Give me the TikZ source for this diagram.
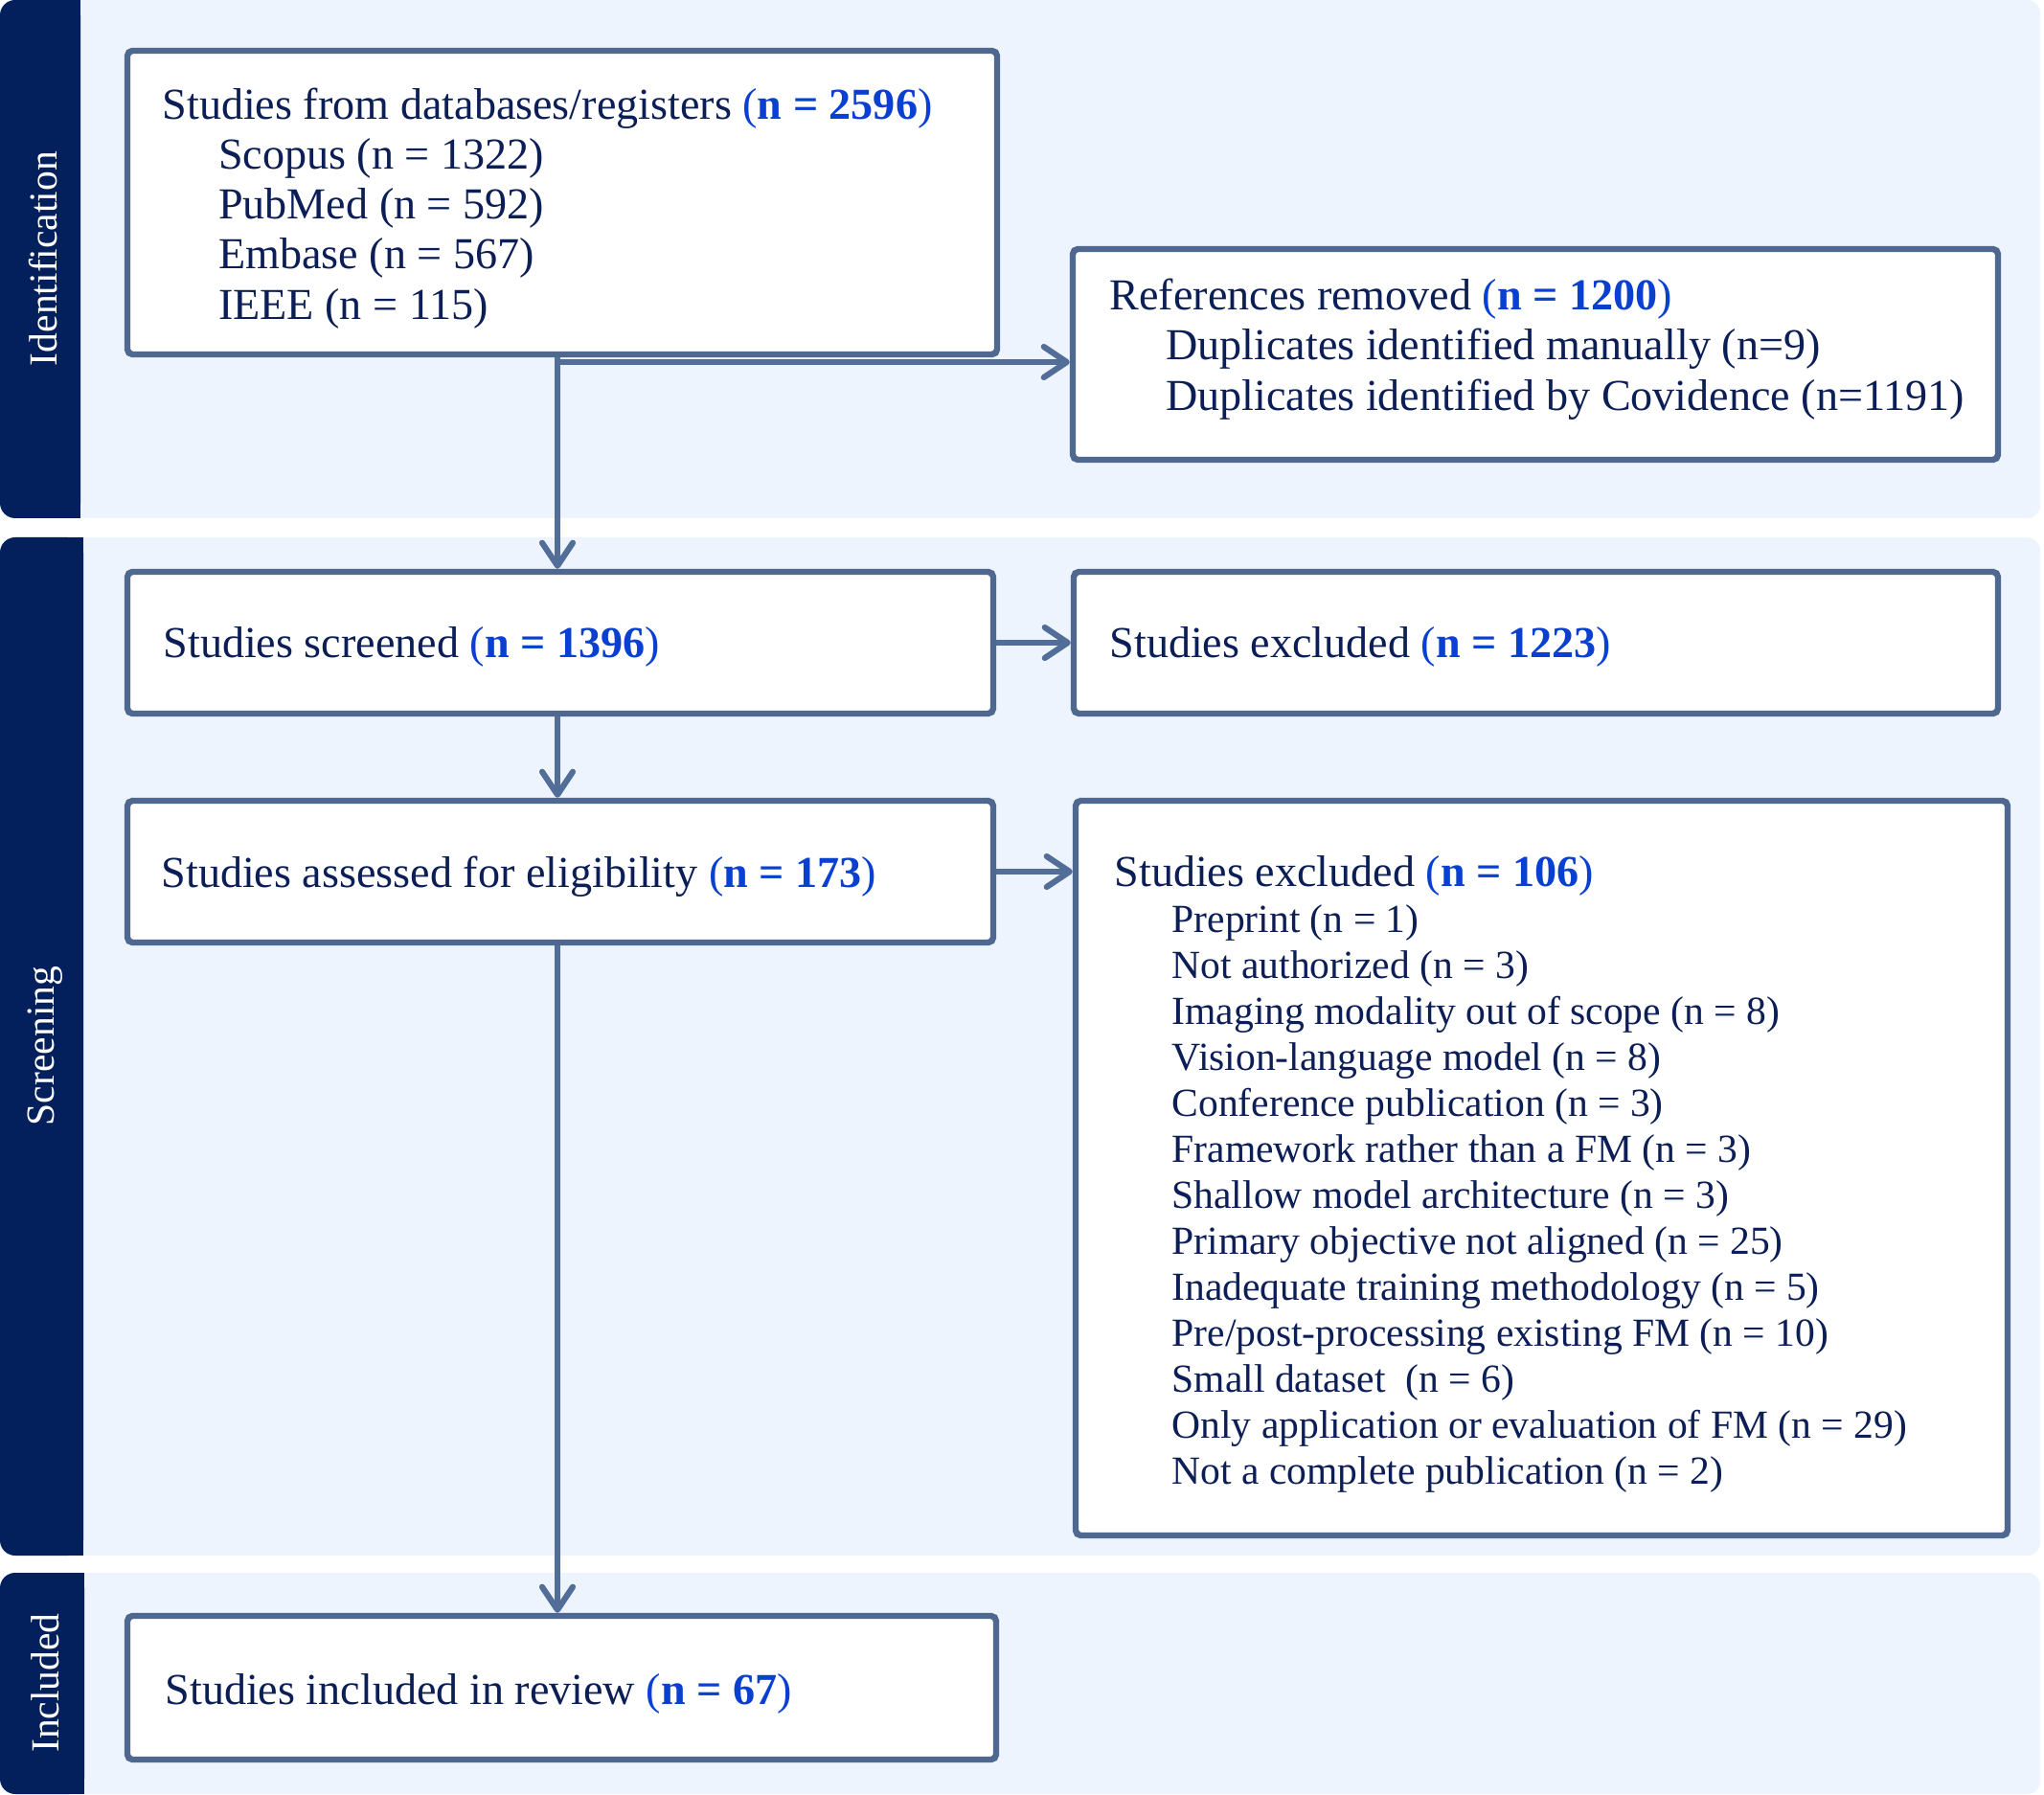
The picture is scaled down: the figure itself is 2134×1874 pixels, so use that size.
\documentclass[tikz,border=0pt]{standalone}
\usepackage{fontspec}
\setmainfont{Liberation Serif}
\usetikzlibrary{arrows.meta,fit}
\definecolor{bandbg}{HTML}{EDF4FE}
\definecolor{sidenavy}{HTML}{03205C}
\definecolor{boxline}{HTML}{4E6890}
\definecolor{arrline}{HTML}{526D97}
\definecolor{txtnavy}{HTML}{0C1E56}
\definecolor{nblue}{HTML}{0A40D2}
\newcommand{\nb}[1]{{\color{nblue}(\textbf{#1})}}
\newcommand{\ind}{\hspace*{22pt}}
\begin{document}
\begin{tikzpicture}[x=0.375pt,y=-0.375pt,
  box/.style={draw=boxline, line width=2.4pt, fill=white, rounded corners=2pt, inner sep=0pt},
  arr/.style={draw=arrline, line width=2.3pt, -{Straight Barb[length=9pt,width=12pt,round]}},
  txt/.style={text=txtnavy, font=\fontsize{17.3}{19.6}\selectfont, inner sep=0pt, align=left},
  side/.style={text=white, font=\fontsize{15.6}{18}\selectfont, rotate=90, inner sep=0pt}]
\useasboundingbox (0,0) rectangle (2134,1874);
% bands
\fill[bandbg, rounded corners=5pt] (0,0) rectangle (2130,541);
\fill[bandbg, rounded corners=5pt] (0,561) rectangle (2130,1624);
\fill[bandbg, rounded corners=5pt] (0,1642) rectangle (2130,1873);
\fill[sidenavy, rounded corners=6pt] (0,0) rectangle (84,541);
\fill[sidenavy] (40,0) rectangle (84,541);
\fill[sidenavy, rounded corners=6pt] (0,561) rectangle (87,1624);
\fill[sidenavy] (40,561) rectangle (87,1624);
\fill[sidenavy, rounded corners=6pt] (0,1642) rectangle (88,1873);
\fill[sidenavy] (40,1642) rectangle (88,1873);
\node[side] (lid) at (45,270) {Identification};
\node[side] (lsc) at (47,1092) {Screening};
\node[side] (lin) at (47,1757) {Included};
% boxes
\node[box, fit={(133,53) (1041,370)}] (b1) {};
\node[box, fit={(1120,260) (2086,480)}] (b2) {};
\node[box, fit={(133,597) (1037,745)}] (b3) {};
\node[box, fit={(1121,597) (2086,745)}] (b4) {};
\node[box, fit={(133,836) (1037,984)}] (b5) {};
\node[box, fit={(1123,836) (2096,1603)}] (b6) {};
\node[box, fit={(133,1687) (1040,1837)}] (b7) {};
% texts
\node[txt, anchor=north west] (t1) at (169,91) {Studies from databases/registers \nb{n = 2596}\\
\ind Scopus (n = 1322)\\
\ind PubMed (n = 592)\\
\ind Embase (n = 567)\\
\ind IEEE (n = 115)};
\node[txt, anchor=north west, font=\fontsize{17.3}{19.7}\selectfont] (t2) at (1158,290) {References removed \nb{n = 1200}\\
\ind Duplicates identified manually (n=9)\\
\ind Duplicates identified by Covidence (n=1191)};
\node[txt, anchor=base west] (t3) at (170,687) {Studies screened \nb{n = 1396}};
\node[txt, anchor=base west] (t4) at (1158,687) {Studies excluded \nb{n = 1223}};
\node[txt, anchor=base west] (t5) at (168,927) {Studies assessed for eligibility \nb{n = 173}};
\node[txt, anchor=north west, font=\fontsize{15.6}{18}\selectfont] (t6) at (1163,893) {{\fontsize{17.3}{18}\selectfont Studies excluded \nb{n = 106}}\\
\hspace*{22.5pt}Preprint (n = 1)\\
\hspace*{22.5pt}Not authorized (n = 3)\\
\hspace*{22.5pt}Imaging modality out of scope (n = 8)\\
\hspace*{22.5pt}Vision-language model (n = 8)\\
\hspace*{22.5pt}Conference publication (n = 3)\\
\hspace*{22.5pt}Framework rather than a FM (n = 3)\\
\hspace*{22.5pt}Shallow model architecture (n = 3)\\
\hspace*{22.5pt}Primary objective not aligned (n = 25)\\
\hspace*{22.5pt}Inadequate training methodology (n = 5)\\
\hspace*{22.5pt}Pre/post-processing existing FM (n = 10)\\
\hspace*{22.5pt}Small dataset\ \ (n = 6)\\
\hspace*{22.5pt}Only application or evaluation of FM (n = 29)\\
\hspace*{22.5pt}Not a complete publication (n = 2)};
\node[txt, anchor=base west] (t7) at (172,1779) {Studies included in review \nb{n = 67}};
% connectors
\coordinate (vx) at (582,378);
\draw[arr] (vx |- b1.south) -- (vx |- b3.north);
\draw[arr] (vx) -- (vx -| b2.west);
\draw[arr] (b3.east) -- (b4.west);
\draw[arr] (vx |- b3.south) -- (vx |- b5.north);
\draw[arr] (b5.east) -- (b5.east -| b6.west);
\draw[arr] (vx |- b5.south) -- (vx |- b7.north);
\end{tikzpicture}
\end{document}
